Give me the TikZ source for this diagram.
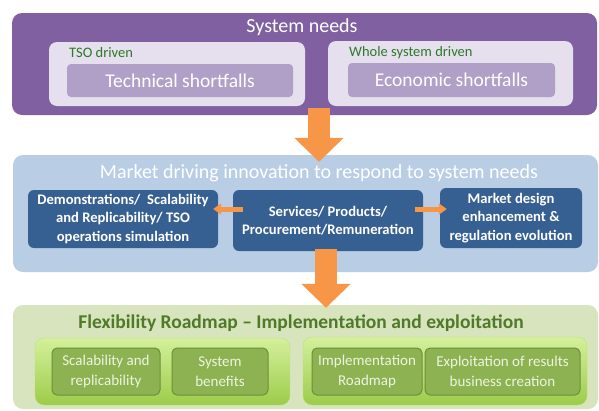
\documentclass[tikz,border=0pt]{standalone}
\usepackage{fontspec}
\setmainfont{Carlito}
\usetikzlibrary{arrows.meta, positioning, calc}
\definecolor{needspurple}{RGB}{128,96,160}
\definecolor{needslight}{RGB}{230,224,238}
\definecolor{needsmid}{RGB}{176,160,200}
\definecolor{tsogreen}{RGB}{46,120,40}
\definecolor{marketlight}{RGB}{185,205,229}
\definecolor{marketdark}{RGB}{55,96,146}
\definecolor{roadlight}{RGB}{215,228,189}
\definecolor{roadtitle}{RGB}{79,122,40}
\definecolor{groupTop}{RGB}{212,240,156}
\definecolor{groupBottom}{RGB}{156,204,74}
\definecolor{itemfill}{RGB}{141,178,82}
\definecolor{itemline}{RGB}{110,143,58}
\definecolor{itemtext}{RGB}{238,244,224}
\definecolor{flow}{RGB}{247,150,70}
\tikzset{
    panel/.style={rounded corners=10pt, minimum width=585pt, inner sep=0pt},
    lightbox/.style={fill=needslight, rounded corners=8pt, minimum height=64pt, inner sep=0pt},
    shortbox/.style={fill=needsmid, rounded corners=4pt, minimum height=33pt, inner sep=0pt, text=white, font=\fontsize{19.5}{22}\selectfont},
    tag/.style={text=tsogreen, inner sep=0pt, font=\fontsize{14.5}{16}\selectfont},
    actionbox/.style={fill=marketdark, rounded corners=6pt, inner sep=0pt, align=center, text=white, font=\bfseries\fontsize{14.6}{18.5}\selectfont},
    groupbox/.style={rounded corners=9pt, top color=groupTop, bottom color=groupBottom, draw=groupTop!60!groupBottom, minimum height=67pt, inner sep=0pt},
    itembox/.style={fill=itemfill, draw=itemline, line width=1pt, rounded corners=5pt, minimum height=47pt, inner sep=0pt, align=center, text=itemtext, font=\fontsize{15}{20}\selectfont},
    bigarrow/.style={-{Triangle[width=48pt, length=24pt]}, line width=22pt, flow},
    smallarrow/.style={-{Triangle[width=11pt, length=8pt]}, line width=5pt, flow}
}

\begin{document}
\begin{tikzpicture}[x=1pt, y=-1pt]
        \useasboundingbox (0,0) rectangle (599,410);

        % System needs
        \node [panel, fill=needspurple, minimum height=102pt] (needs) at (304.5,64) {};
        \node [text=white, font=\fontsize{20}{22}\selectfont] (needstitle) at (302,27) {System needs};
        \node [lightbox, minimum width=256pt] (tso) at (177,74) {};
        \node [lightbox, minimum width=245pt, minimum height=65pt] (whole) at (450.5,73.5) {};
        \node [tag, anchor=west] (tsotag) at (69,53) {TSO driven};
        \node [tag, anchor=west] (wholetag) at (349,53) {Whole system driven};
        \node [shortbox, minimum width=226pt] (tech) at (180,80.5) {Technical shortfalls};
        \node [shortbox, minimum width=207pt, minimum height=34pt] (econ) at (451.5,80) {Economic shortfalls};

        % Market driving innovation
        \node [panel, fill=marketlight, minimum height=117pt] (market) at (305.5,213.5) {};
        \node [text=white, font=\fontsize{20}{22}\selectfont] (markettitle) at (319,173) {Market driving innovation to respond to system needs};
        \node [actionbox, minimum width=190pt, minimum height=58pt] (demo) at (123,219) {Demonstrations/\ \ Scalability\\ and Replicability/ TSO\\ operations simulation};
        \node [actionbox, minimum width=190pt, minimum height=61pt] (services) at (328,220.5) {Services/ Products/\\ Procurement/Remuneration};
        \node [actionbox, minimum width=142pt, minimum height=60pt] (design) at (511,218) {Market design\\ enhancement \&\\ regulation evolution};

        % Flexibility roadmap
        \node [panel, fill=roadlight, minimum height=104pt] (road) at (305.5,357) {};
        \node [text=roadtitle, font=\bfseries\fontsize{19.5}{22}\selectfont] (roadtitle) at (301,323) {Flexibility Roadmap -- Implementation and exploitation};
        \node [groupbox, minimum width=255pt] (leftgroup) at (162.5,371.5) {};
        \node [groupbox, minimum width=284pt, minimum height=68pt] (rightgroup) at (445,371) {};
        \node [itembox, minimum width=108pt] (scal) at (106,371.5) {Scalability and\\ replicability};
        \node [itembox, minimum width=96pt] (benefits) at (220,371.5) {System\\ benefits};
        \node [itembox, minimum width=110pt] (impl) at (367,371.5) {Implementation\\ Roadmap};
        \node [itembox, minimum width=155pt] (exploit) at (502.5,371.5) {Exploitation of results\\ business creation};

        % Flow arrows
        \draw [bigarrow, shorten <=-7pt, shorten >=-7pt] ([xshift=14.5pt]needs.south) -- ([xshift=13.5pt]market.north);
        \draw [bigarrow, shorten <=-2pt, shorten >=-3pt] ([xshift=-2pt]services.south) -- ([xshift=20.5pt]road.north);
        \draw [smallarrow, shorten <=-10pt, shorten >=-5pt] ([yshift=11.5pt]services.west) -- ([yshift=11.5pt]services.west -| demo.east);
        \draw [smallarrow, shorten <=-8pt, shorten >=-7pt] ([yshift=11.5pt]services.east) -- ([yshift=11.5pt]services.east -| design.west);
    \end{tikzpicture}
\end{document}
